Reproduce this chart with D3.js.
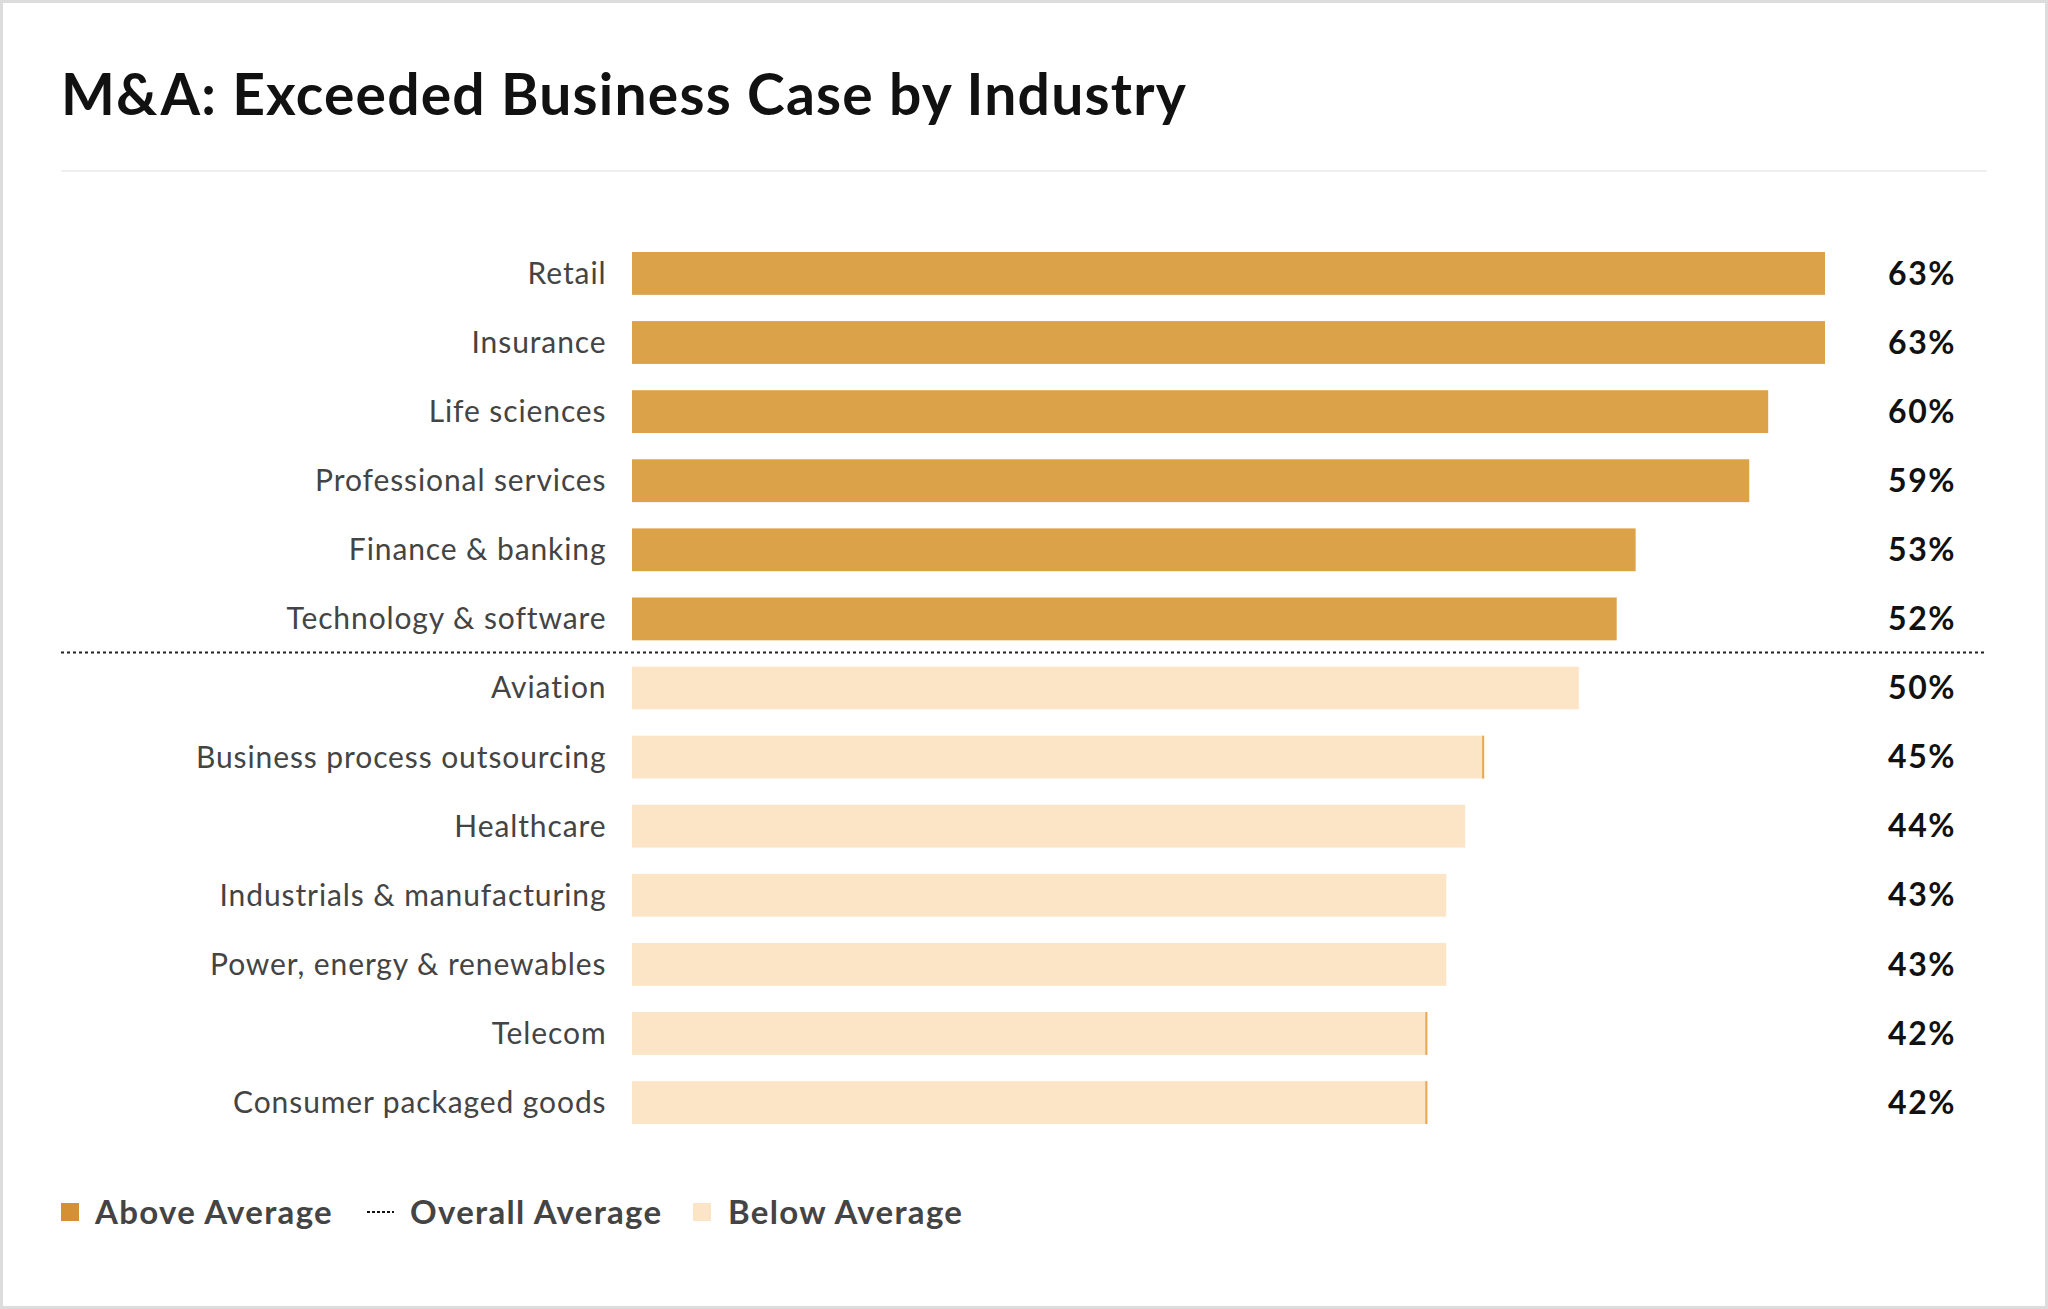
<!DOCTYPE html>
<html>
<head>
<meta charset="utf-8">
<script src="https://cdn.jsdelivr.net/npm/d3@7"></script>
<style>
  html, body { margin: 0; padding: 0; background: #fff; }
  text { font-family: Lato, "Open Sans", sans-serif; }
</style>
</head>
<body>
<div id="canvas"></div>
<script>
// industries, top to bottom
var industries = [
  "Retail", "Insurance", "Life sciences", "Professional services",
  "Finance & banking", "Technology & software", "Aviation",
  "Business process outsourcing", "Healthcare", "Industrials & manufacturing",
  "Power, energy & renewables", "Telecom", "Consumer packaged goods"
];
// % that exceeded the business case
var exceeded = [63, 63, 60, 59, 53, 52, 50, 45, 44, 43, 43, 42, 42];
var overallAverage = 51;
// bars that show a thin darker edge in the original
var edged = ["Business process outsourcing", "Telecom", "Consumer packaged goods"];
var legendLabels = ["Above Average", "Overall Average", "Below Average"];

var w = 2048;
var h = 1309;

var data = industries.map(function(d, i) {
  return { name: d, value: exceeded[i], above: exceeded[i] > overallAverage };
});

function draw() {
  const svg = d3.select("#canvas").append("svg")
      .attr("width", w)
      .attr("height", h);

  // card
  svg.append("rect")
      .attr("x", 1.5).attr("y", 1.5)
      .attr("width", w - 3).attr("height", h - 3)
      .attr("fill", "#fff")
      .attr("stroke", "#dcdcdc")
      .attr("stroke-width", 3);

  svg.append("text")
      .attr("x", 61).attr("y", 115)
      .attr("font-size", 57)
      .attr("font-weight", 700)
      .attr("letter-spacing", 1.2)
      .attr("fill", "#111")
      .text("M&A: Exceeded Business Case by Industry");

  svg.append("line")
      .attr("x1", 61).attr("x2", 1987)
      .attr("y1", 171).attr("y2", 171)
      .attr("stroke", "#efefef")
      .attr("stroke-width", 2);

  const x = d3.scaleLinear()
      .domain([0, d3.max(exceeded)])
      .range([632, 1825]);

  const y = d3.scaleBand()
      .domain(industries)
      .range([252, 1124])
      .paddingInner(0.38)
      .paddingOuter(0);

  const rows = svg.selectAll("g.row")
      .data(data)
      .enter()
      .append("g")
      .attr("class", "row")
      .attr("transform", d => `translate(0,${y(d.name)})`);

  rows.append("rect")
      .attr("x", x(0))
      .attr("y", 0)
      .attr("width", d => x(d.value) - x(0))
      .attr("height", y.bandwidth())
      .attr("fill", d => d.above ? "#dba24a" : "#fce5c6");

  rows.filter(d => edged.indexOf(d.name) > -1)
      .append("line")
      .attr("x1", d => x(d.value) - 1).attr("x2", d => x(d.value) - 1)
      .attr("y1", 0).attr("y2", y.bandwidth())
      .attr("stroke", "#e9a84f")
      .attr("stroke-width", 2);

  rows.append("text")
      .attr("x", 606.5)
      .attr("y", y.bandwidth() / 2)
      .attr("dy", "0.35em")
      .attr("text-anchor", "end")
      .attr("font-size", 30)
      .attr("letter-spacing", 0.9)
      .attr("fill", "#444")
      .text(d => d.name);

  rows.append("text")
      .attr("x", 1888)
      .attr("y", y.bandwidth() / 2)
      .attr("dy", "0.35em")
      .attr("font-size", 32)
      .attr("font-weight", 700)
      .attr("letter-spacing", 1.6)
      .attr("fill", "#111")
      .text(d => d.value + "%");

  // overall average sits between last above and first below bar
  const lastAbove = data.filter(d => d.above).slice(-1)[0];
  const avgY = y(lastAbove.name) + y.bandwidth() + (y.step() - y.bandwidth()) / 2 - 1;
  svg.append("line")
      .attr("x1", 61).attr("x2", 1987)
      .attr("y1", avgY).attr("y2", avgY)
      .attr("stroke", "#222")
      .attr("stroke-width", 2)
      .attr("stroke-dasharray", "3,3");

  // LEGEND
  const leg = svg.append("g").attr("transform", "translate(0,1212)");
  leg.append("rect").attr("x", 61).attr("y", -9).attr("width", 18).attr("height", 18).attr("fill", "#d69034");
  leg.append("line").attr("x1", 367).attr("x2", 394).attr("y1", 0).attr("y2", 0)
      .attr("stroke", "#111").attr("stroke-width", 2).attr("stroke-dasharray", "3,2");
  leg.append("rect").attr("x", 693).attr("y", -9).attr("width", 18).attr("height", 18).attr("fill", "#fce5c6");
  leg.selectAll("text.leg")
      .data(legendLabels)
      .enter()
      .append("text")
      .attr("class", "leg")
      .attr("x", (d, i) => [95, 410, 728][i])
      .attr("y", 0)
      .attr("dy", "0.35em")
      .attr("font-size", 33)
      .attr("font-weight", 700)
      .attr("letter-spacing", 1.3)
      .attr("fill", "#444")
      .text(d => d);
}

draw();
</script>
</body>
</html>
